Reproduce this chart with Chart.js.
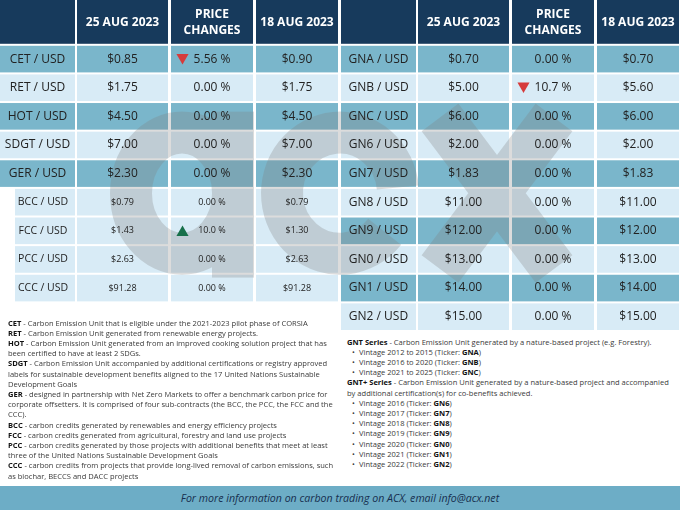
<!DOCTYPE html>
<html>
<head>
<meta charset="utf-8">
<script src="https://cdn.jsdelivr.net/npm/chart.js@4.4.0/dist/chart.umd.min.js"></script>
<style>
  html, body { margin: 0; padding: 0; background: #fff; }
  body { width: 680px; height: 510px; position: relative; overflow: hidden; font-family: 'Open Sans', sans-serif; }
  #board { position: absolute; left: 0; top: 0; }
  .notes { position: absolute; font-size: 7.55px; line-height: 10.2px; color: #3a3a3a; white-space: nowrap; }
  .notes b { color: #111; font-weight: 700; }
  #notesLeft { left: 8px; top: 317.6px; }
  #notesRight { left: 347px; top: 336.6px; }
  .bullet { padding-left: 12px; position: relative; }
  .bullet::before { content: '\2022'; position: absolute; left: 5px; }
  #footer { position: absolute; left: 0; top: 486px; width: 680px; height: 24px; background: #6dadc6; color: #172f4f;
            font-style: italic; font-size: 10.6px; line-height: 24px; text-align: center; }
</style>
</head>
<body>
<canvas id="board" width="680" height="332"></canvas>

<div class="notes" id="notesLeft">
  <div><b>CET</b> - Carbon Emission Unit that is eligible under the 2021-2023 pilot phase of CORSIA</div>
  <div><b>RET</b> - Carbon Emission Unit generated from renewable energy projects.</div>
  <div><b>HOT</b> - Carbon Emission Unit generated from an improved cooking solution project that has<br>been certified to have at least 2 SDGs.</div>
  <div><b>SDGT</b> - Carbon Emission Unit accompanied by additional certifications or registry approved<br>labels for sustainable development benefits aligned to the 17 United Nations Sustainable<br>Development Goals</div>
  <div><b>GER</b> - designed in partnership with Net Zero Markets to offer a benchmark carbon price for<br>corporate offsetters. It is comprised of four sub-contracts (the BCC, the PCC, the FCC and the<br>CCC).</div>
  <div><b>BCC</b> - carbon credits generated by renewables and energy efficiency projects</div>
  <div><b>FCC</b> - carbon credits generated from agricultural, forestry and land use projects</div>
  <div><b>PCC</b> - carbon credits generated by those projects with additional benefits that meet at least<br>three of the United Nations Sustainable Development Goals</div>
  <div><b>CCC</b> - carbon credits from projects that provide long-lived removal of carbon emissions, such<br>as biochar, BECCS and DACC projects</div>
</div>

<div class="notes" id="notesRight">
  <div><b>GNT Series</b> - Carbon Emission Unit generated by a nature-based project (e.g. Forestry).</div>
  <div class="bullet">Vintage 2012 to 2015 (Ticker: <b>GNA</b>)</div>
  <div class="bullet">Vintage 2016 to 2020 (Ticker: <b>GNB</b>)</div>
  <div class="bullet">Vintage 2021 to 2025 (Ticker: <b>GNC</b>)</div>
  <div><b>GNT+ Series</b> - Carbon Emission Unit generated by a nature-based project and accompanied<br>by additional certification(s) for co-benefits achieved.</div>
  <div class="bullet">Vintage 2016 (Ticker: <b>GN6</b>)</div>
  <div class="bullet">Vintage 2017 (Ticker: <b>GN7</b>)</div>
  <div class="bullet">Vintage 2018 (Ticker: <b>GN8</b>)</div>
  <div class="bullet">Vintage 2019 (Ticker: <b>GN9</b>)</div>
  <div class="bullet">Vintage 2020 (Ticker: <b>GN0</b>)</div>
  <div class="bullet">Vintage 2021 (Ticker: <b>GN1</b>)</div>
  <div class="bullet">Vintage 2022 (Ticker: <b>GN2</b>)</div>
</div>

<div id="footer">For more information on carbon trading on ACX, email info@acx.net</div>

<script>
// price data
const dateCurrent = '25 AUG 2023';
const datePrevious = '18 AUG 2023';

const leftTickers = ['CET', 'RET', 'HOT', 'SDGT', 'GER', 'BCC', 'FCC', 'PCC', 'CCC'];
const leftCurrent = [0.85, 1.75, 4.50, 7.00, 2.30, 0.79, 1.43, 2.63, 91.28];
const leftChange = [-5.56, 0, 0, 0, 0, 0, 10.0, 0, 0];
const leftPrevious = [0.90, 1.75, 4.50, 7.00, 2.30, 0.79, 1.30, 2.63, 91.28];
const leftSub = [false, false, false, false, false, true, true, true, true]; // GER sub-contracts

const rightTickers = ['GNA', 'GNB', 'GNC', 'GN6', 'GN7', 'GN8', 'GN9', 'GN0', 'GN1', 'GN2'];
const rightCurrent = [0.70, 5.00, 6.00, 2.00, 1.83, 11.00, 12.00, 13.00, 14.00, 15.00];
const rightChange = [0, -10.7, 0, 0, 0, 0, 0, 0, 0, 0];
const rightPrevious = [0.70, 5.60, 6.00, 2.00, 1.83, 11.00, 12.00, 13.00, 14.00, 15.00];
const rightSub = rightTickers.map(() => false);

// layout (x in px units, y in row units)
const CELL_X = [[0, 75], [77, 168], [171, 253], [256, 338]];
const HALF = 341;
const SUB_INDENT = 15;
const HEADER_ROWS = 1.6;
const ROW_FILL = 0.93;

const colors = {
  header: '#173a5c',
  dark: '#7ab6cb',
  light: '#d8ebf6',
  text: '#222222',
  up: '#17704a',
  down: '#d63b3b',
  watermark: '#808080'
};
const WATERMARK_ALPHA = 0.28;

const tables = [
  { offset: 0, tickers: leftTickers, current: leftCurrent, change: leftChange, previous: leftPrevious, sub: leftSub },
  { offset: HALF, tickers: rightTickers, current: rightCurrent, change: rightChange, previous: rightPrevious, sub: rightSub }
];

const money = v => '$' + v.toFixed(2);
const pct = v => Math.abs(v).toPrecision(3) + ' %';

// up / down markers next to the price change
const markers = [];
tables.forEach(t => {
  t.change.forEach((v, i) => {
    if (v === 0) return;
    markers.push({
      x: t.offset + CELL_X[2][0] + 11.5,
      y: i + 0.465 + (v < 0 ? -0.06 : 0.06),
      color: v < 0 ? colors.down : colors.up,
      rot: v < 0 ? 180 : 0
    });
  });
});

// "acx" logo watermark, rough strokes drawn opaque off-screen then blended once
function drawWatermark(chart, X, Y) {
  const off = document.createElement('canvas');
  off.width = chart.width;
  off.height = chart.height;
  const g = off.getContext('2d');
  g.strokeStyle = colors.watermark;
  g.fillStyle = colors.watermark;
  g.lineWidth = 42;
  const top = Y(2.3), bot = Y(8.0);
  const cy = (top + bot) / 2, ry = (bot - top) / 2 - 21;
  // a : bowl + stem
  g.beginPath();
  g.ellipse(X(182), cy, 51, ry, 0, 0, Math.PI * 2);
  g.stroke();
  g.fillRect(X(212), top, 42, Y(8.1) - top);
  // c : open arc
  g.beginPath();
  g.ellipse(X(340), cy, 58, ry, 0, -0.03 * Math.PI, 0.22 * Math.PI, true);
  g.stroke();
  // x : two diagonals
  g.lineWidth = 46;
  g.beginPath();
  g.moveTo(X(440), Y(2.5)); g.lineTo(X(554), Y(7.8));
  g.moveTo(X(554), Y(2.5)); g.lineTo(X(440), Y(7.8));
  g.stroke();

  const ctx = chart.ctx;
  ctx.save();
  ctx.globalAlpha = WATERMARK_ALPHA;
  ctx.drawImage(off, 0, 0, chart.width, chart.height);
  ctx.restore();
}

const tablePlugin = {
  id: 'priceTable',
  beforeDatasetsDraw(chart) {
    const { ctx, scales: { x, y } } = chart;
    const X = v => x.getPixelForValue(v);
    const Y = v => y.getPixelForValue(v);
    const rect = (x0, x1, y0, y1, fill) => {
      ctx.fillStyle = fill;
      ctx.fillRect(X(x0), Y(y0), X(x1) - X(x0), Y(y1) - Y(y0));
    };

    ctx.save();

    // cell backgrounds
    tables.forEach(t => {
      CELL_X.forEach(([a, b]) => rect(t.offset + a, t.offset + b, -HEADER_ROWS, -0.07, colors.header));
      t.tickers.forEach((tk, i) => {
        const fill = (i % 2 === 0 && !t.sub[i]) ? colors.dark : colors.light;
        CELL_X.forEach(([a, b], c) => {
          const left = (c === 0 && t.sub[i]) ? a + SUB_INDENT : a;
          rect(t.offset + left, t.offset + b, i, i + ROW_FILL, fill);
        });
      });
    });

    drawWatermark(chart, X, Y);

    // header text
    ctx.textAlign = 'center';
    ctx.textBaseline = 'middle';
    const headY = Y(-HEADER_ROWS / 2 - 0.01);
    tables.forEach(t => {
      const cx = c => (X(t.offset + CELL_X[c][0]) + X(t.offset + CELL_X[c][1])) / 2;
      ctx.fillStyle = '#ffffff';
      ctx.font = "700 12px 'Open Sans'";
      ctx.fillText(dateCurrent, cx(1), headY);
      ctx.fillText('PRICE', cx(2), headY - 8);
      ctx.fillText('CHANGES', cx(2), headY + 8);
      ctx.fillText(datePrevious, cx(3), headY);

      // body text
      ctx.fillStyle = colors.text;
      t.tickers.forEach((tk, i) => {
        const rowY = Y(i + 0.465);
        const sub = t.sub[i];
        const tickX = sub
          ? (X(t.offset + CELL_X[0][0] + SUB_INDENT) + X(t.offset + CELL_X[0][1])) / 2 - 2
          : cx(0);
        ctx.font = sub ? "400 10.5px 'Open Sans'" : "400 12px 'Open Sans'";
        ctx.fillText(tk + ' / USD', tickX, rowY);
        ctx.font = sub ? "400 9px 'Open Sans'" : "400 12px 'Open Sans'";
        ctx.fillText(money(t.current[i]), cx(1), rowY);
        ctx.fillText(pct(t.change[i]), cx(2), rowY);
        ctx.fillText(money(t.previous[i]), cx(3), rowY);
      });
    });

    ctx.restore();
  }
};

new Chart(document.getElementById('board'), {
  type: 'scatter',
  data: {
    datasets: [{
      data: markers,
      pointStyle: 'triangle',
      pointRadius: 7,
      pointHoverRadius: 7,
      pointBorderWidth: 0,
      pointBackgroundColor: markers.map(mk => mk.color),
      pointRotation: markers.map(mk => mk.rot)
    }]
  },
  options: {
    responsive: false,
    animation: false,
    events: [],
    layout: { padding: 0, autoPadding: false },
    plugins: { legend: { display: false }, tooltip: { enabled: false } },
    scales: {
      x: { type: 'linear', min: 0, max: 680, display: false },
      y: { type: 'linear', min: -HEADER_ROWS, max: 10, reverse: true, display: false }
    }
  },
  plugins: [tablePlugin]
});
</script>
</body>
</html>
